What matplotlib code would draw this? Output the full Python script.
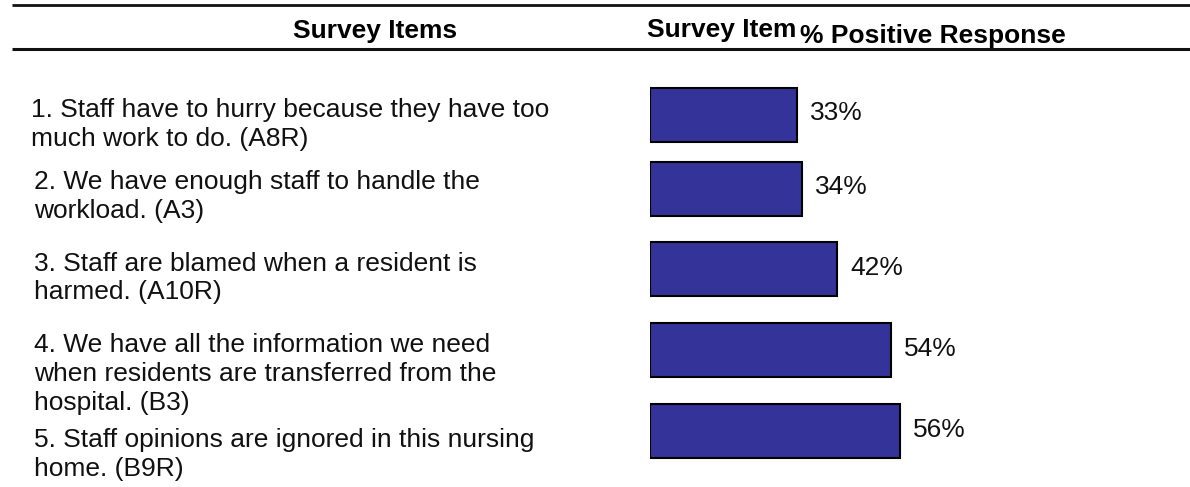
import matplotlib
matplotlib.use("Agg")
import matplotlib.pyplot as plt

# Survey items and their positive-response percentages
items = [
    "1. Staff have to hurry because they have too\nmuch work to do. (A8R)",
    "2. We have enough staff to handle the\nworkload. (A3)",
    "3. Staff are blamed when a resident is\nharmed. (A10R)",
    "4. We have all the information we need\nwhen residents are transferred from the\nhospital. (B3)",
    "5. Staff opinions are ignored in this nursing\nhome. (B9R)",
]
pct_positive = [33, 34, 42, 54, 56]
header_items = "Survey Items"
header_item = "Survey Item"
header_pct = "% Positive Response"

W, H = 1190, 487
plt.rcParams['font.family'] = ['Liberation Sans', 'DejaVu Sans']
fig = plt.figure(figsize=(W / 100, H / 100), dpi=100)
fig.patch.set_facecolor('white')

# Page overlay in pixel units (y down) for header rules and text
page = fig.add_axes([0, 0, 1, 1])
page.set_xlim(0, W)
page.set_ylim(H, 0)
page.axis('off')

page.plot([12, W], [5.3, 5.3], color='#111111', lw=2.0, solid_capstyle='butt')
page.plot([12, W], [49.3, 49.3], color='#111111', lw=2.2, solid_capstyle='butt')

FS = 19.0
page.text(374.7, 37.7, header_items, ha='center', va='baseline',
          fontsize=FS, fontweight='bold')
page.text(646.7, 37.0, header_item, ha='left', va='baseline',
          fontsize=FS, fontweight='bold')
page.text(800.0, 43.3, header_pct, ha='left', va='baseline',
          fontsize=FS, fontweight='bold')

# Item text blocks
text_x = [31, 34, 34, 34, 34]
text_top = [98.3, 170, 251.7, 333.3, 428.3]
for x, top, s in zip(text_x, text_top, items):
    page.text(x, top, s, ha='left', va='top', fontsize=FS,
              linespacing=1.245, color='#111111')

# Bars: value 0 at x=650.5 px, 4.45 px per percent
bar_ax = fig.add_axes([650.5 / W, 0, 445 / W, 1])
bar_ax.set_xlim(0, 100)
bar_ax.set_ylim(H, 0)
bar_ax.axis('off')

row_y = [114.5, 188.7, 269.2, 350.0, 431.0]
bar_ax.barh(row_y, pct_positive, height=54, color='#333399',
            edgecolor='black', linewidth=1.5)
for y, v in zip(row_y, pct_positive):
    bar_ax.annotate(f"{v}%", xy=(v, y), xytext=(9.3, 1.0),
                    textcoords='offset points', ha='left', va='center',
                    fontsize=FS, color='#111111')

fig.savefig("out.png", dpi=100, facecolor='white')
